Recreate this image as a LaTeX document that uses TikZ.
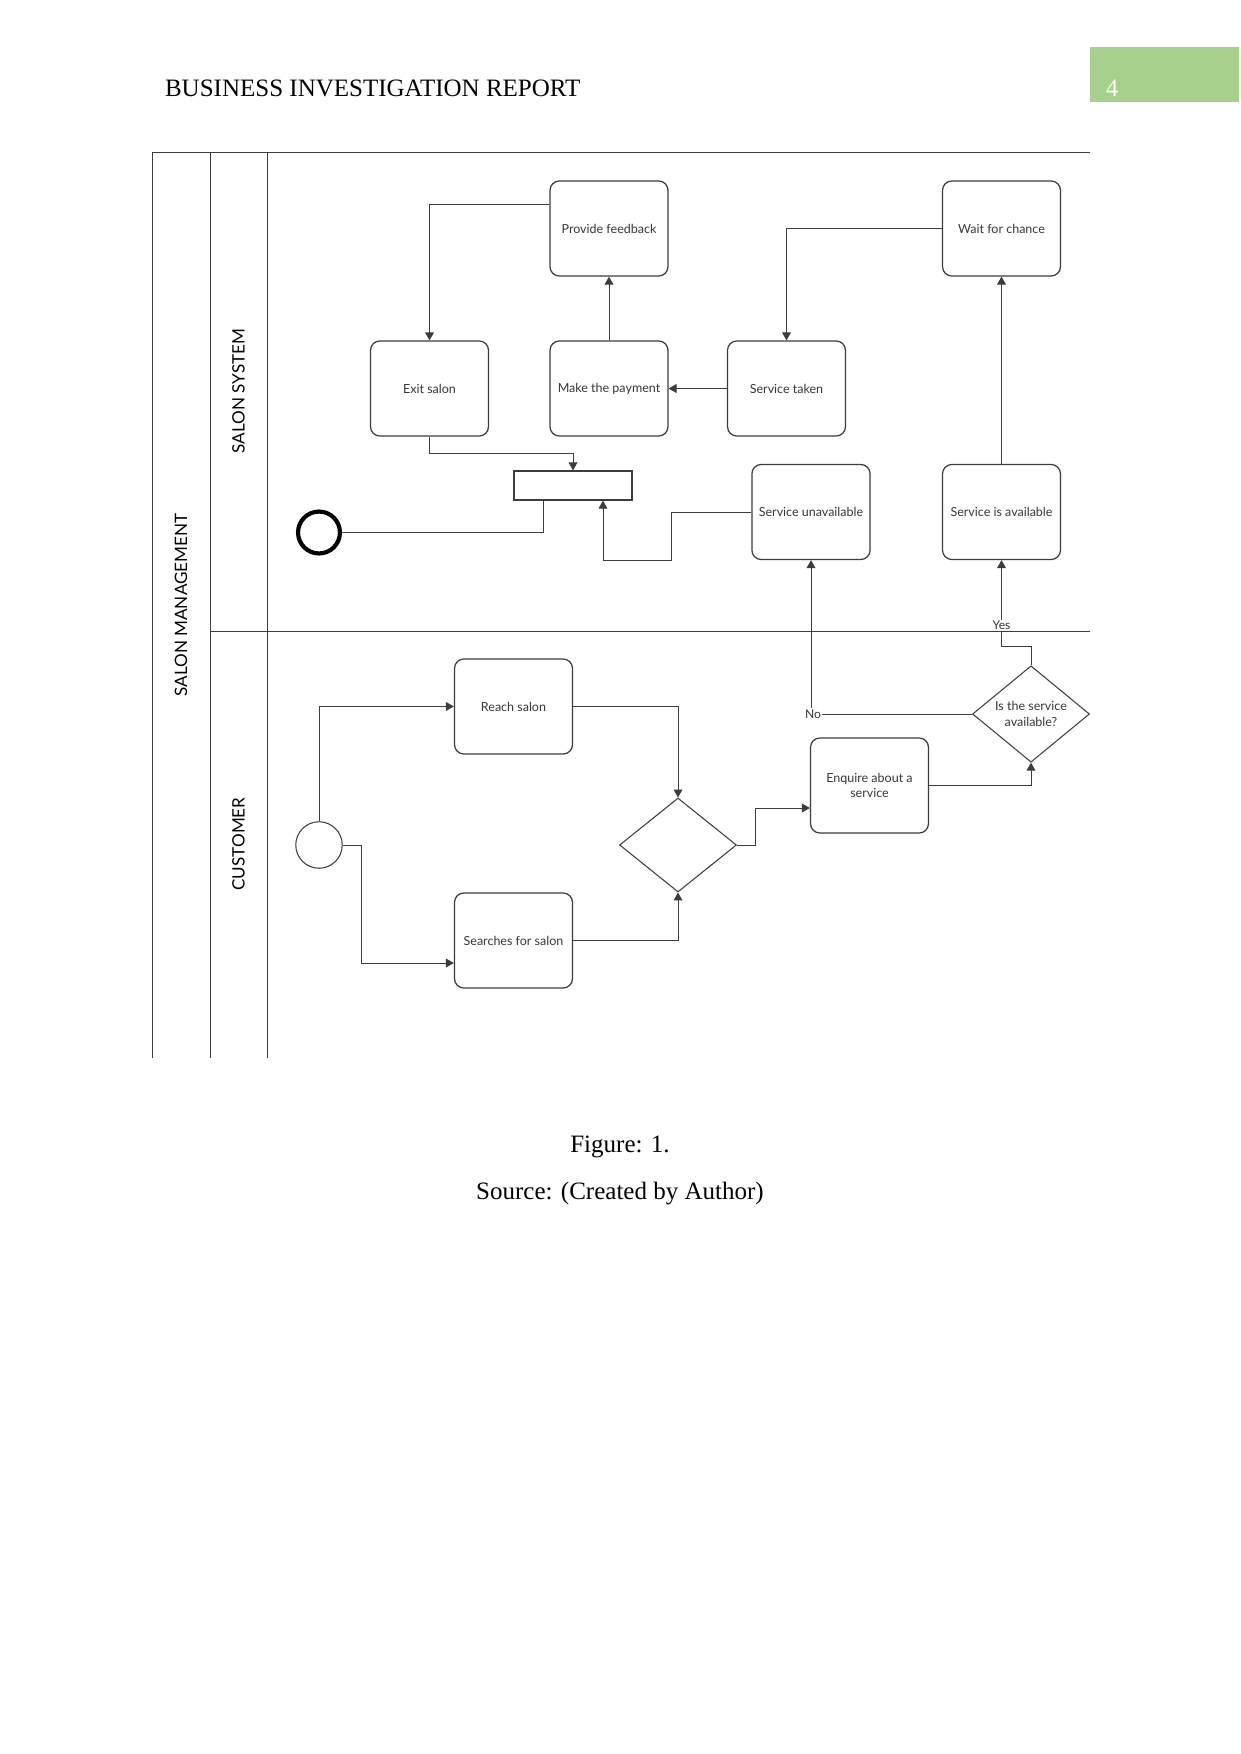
\documentclass[tikz,border=0pt]{standalone}
\usepackage{fontspec}
\setmainfont{Liberation Serif}
\newfontfamily\latofont{Lato}
\usepackage{tikz}
\usetikzlibrary{arrows.meta, positioning, calc, shapes.geometric}
\definecolor{headgreen}{RGB}{168,208,141}
\definecolor{boxgray}{RGB}{60,60,60}
\definecolor{textgray}{RGB}{55,55,55}

\begin{document}
\begin{tikzpicture}[
  x=0.4797pt, y=-0.4797pt,
  task/.style={
    draw=boxgray,
    line width=0.6pt,
    rounded corners=4.5pt,
    minimum width=56.6pt,
    minimum height=45.6pt,
    align=center,
    text=textgray,
    font=\latofont\fontsize{6}{7.4}\selectfont
  },
  gate/.style={
    diamond,
    draw=boxgray,
    line width=0.5pt,
    minimum width=56.1pt,
    minimum height=45.1pt,
    inner sep=0pt,
    align=center,
    text=textgray,
    font=\latofont\fontsize{6}{7.4}\selectfont
  },
  flow/.style={-{Triangle[length=3.8pt, width=4.2pt]}, line width=0.45pt, boxgray},
  link/.style={line width=0.45pt, boxgray},
  lane/.style={rotate=90, font=\latofont\fontsize{8.2}{10}\selectfont},
  tag/.style={fill=white, inner sep=0.6pt, text=textgray, font=\latofont\fontsize{5.8}{7}\selectfont}
]
\useasboundingbox (0,0) rectangle (1241,1754);
\fill[white] (0,0) rectangle (1241,1754);

% page header and caption
\fill[headgreen] (1090,47) rectangle (1239,102);
\node[anchor=base west, inner sep=0pt, font=\fontsize{12}{14}\selectfont] (header) at (164.6,96.5) {BUSINESS INVESTIGATION REPORT};
\node[anchor=base west, inner sep=0pt, text=white, font=\fontsize{12}{14}\selectfont] (pagenum) at (1105.5,96.5) {4};
\node[anchor=base, inner sep=0pt, font=\fontsize{12}{14}\selectfont] (figcap) at (620,1152) {Figure: 1.};
\node[anchor=base, inner sep=0pt, font=\fontsize{12}{14}\selectfont] (srccap) at (620,1199) {Source: (Created by Author)};

% pool and lanes
\draw[boxgray, line width=0.45pt] (152,152) -- (1090,152);
\draw[boxgray, line width=0.45pt] (152,152) -- (152,1058);
\draw[boxgray, line width=0.45pt] (210,152) -- (210,1058);
\draw[boxgray, line width=0.45pt] (267,152) -- (267,1058);
\draw[boxgray, line width=0.45pt] (210,631) -- (1090,631);
\node[lane] (pool) at (181,605) {SALON MANAGEMENT};
\node[lane] (system) at (238.5,391) {SALON SYSTEM};
\node[lane] (customer) at (238.5,844) {CUSTOMER};

% salon system lane
\node[task] (feedback) at (609,228.5) {Provide feedback};
\node[task] (wait) at (1001.5,228.5) {Wait for chance};
\node[task] (exit) at (429.5,388.5) {Exit salon};
\node[task] (payment) at (609,388.5) {Make the payment};
\node[task] (taken) at (786.5,388.5) {Service taken};
\node[task] (unavail) at (811,512) {Service unavailable};
\node[task] (avail) at (1001.5,512) {Service is available};
\node[draw=boxgray, line width=0.6pt, minimum width=56.6pt, minimum height=13.9pt, inner sep=0pt] (join) at (573,485.5) {};
\node[circle, draw=black, line width=2pt, minimum size=20.1pt, inner sep=0pt] (end) at (319,532.5) {};

% customer lane
\node[circle, draw=boxgray, line width=0.5pt, minimum size=22.3pt, inner sep=0pt] (start) at (319,845) {};
\node[task] (reach) at (513.5,706.5) {Reach salon};
\node[task] (search) at (513.5,940.5) {Searches for salon};
\node[gate] (merge) at (678,845) {};
\node[task] (enquire) at (869.5,785.5) {Enquire about a\\service};
\node[gate] (check) at (1031,714) {Is the service\\available?};

\draw[flow] (start.north) |- (reach.west);
\draw[flow] (start.east) -- ++(19,0) |- ($(search.west)+(0,22.5)$);
\draw[flow] (reach.east) -| (merge.north);
\draw[flow] (search.east) -| (merge.south);
\draw[flow] (merge.east) -- ++(18,0) |- ($(enquire.west)+(0,22.5)$);
\draw[flow] (enquire.east) -| (check.south);
\draw[flow] (check.north) -- ++(0,-19) -| node[tag, pos=0.62] {Yes} (avail.south);
\draw[flow] (check.west) -| node[tag, pos=0.5, xshift=1pt] {No} (unavail.south);
\draw[flow] (avail.north) -- (wait.south);
\draw[flow] (wait.west) -| (taken.north);
\draw[flow] (taken.west) -- (payment.east);
\draw[flow] (payment.north) -- (feedback.south);
\draw[flow] ($(feedback.west)+(0,-24.5)$) -| (exit.north);
\draw[flow] (exit.south) -- ++(0,17) -| (join.north);
\draw[flow] (unavail.west) -- ++(-80,0) -- ++(0,48) -| ($(join.south)+(30,0)$);
\draw[link] ($(join.south)+(-30,0)$) |- (end.east);
\end{tikzpicture}
\end{document}
